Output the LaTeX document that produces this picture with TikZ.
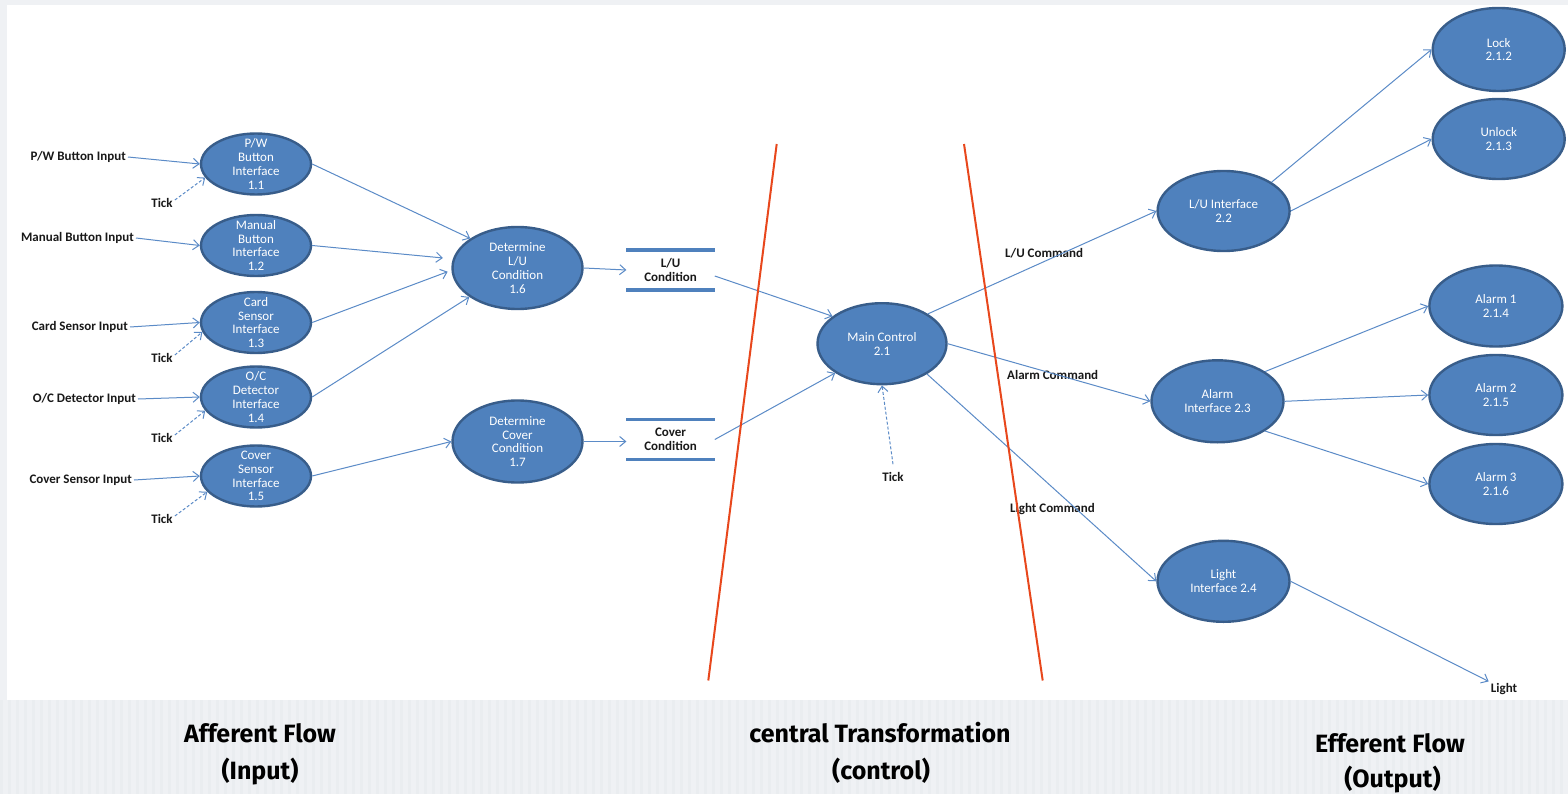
\documentclass[tikz,border=0pt]{standalone}
\usepackage{fontspec}
\setmainfont{Carlito}
\newfontfamily\handfont{Fira Sans}
\usetikzlibrary{arrows.meta,shapes.geometric}
\definecolor{bubble}{HTML}{4F81BD}
\definecolor{bubbleedge}{HTML}{385D8A}
\definecolor{flowc}{HTML}{5B8BC7}
\definecolor{redline}{HTML}{E8471C}
\definecolor{bggray}{HTML}{EFF1F4}
\definecolor{stripe}{HTML}{EAEDF0}
\begin{document}
\begin{tikzpicture}[x=1pt,y=-1pt,
 proc/.style 2 args={ellipse, draw=bubbleedge, line width=2.4pt, fill=bubble, minimum width=#1, minimum height=#2, inner sep=0pt},
 ptext/.style={text=white, font=\fontsize{13}{13.8}\selectfont, align=center, inner sep=0pt},
 lbl/.style={font=\bfseries\fontsize{13}{15}\selectfont, text=black!90, inner sep=2pt},
 store/.style={font=\bfseries\fontsize{13}{14}\selectfont, text=black!90, align=center, minimum width=88pt, minimum height=40pt, inner sep=0pt},
 storebar/.style={draw=bubble, line width=3.5pt},
 flow/.style={draw=flowc, line width=1pt, -{Straight Barb[length=6pt,width=10pt]}},
 tickflow/.style={flow, dash pattern=on 3pt off 2pt},
 divider/.style={draw=redline, line width=2pt},
 hand/.style={font=\handfont\bfseries\fontsize{25}{28}\selectfont, inner sep=0pt}
]
% background
\fill[bggray] (0,0) rectangle (1568,794);
\foreach \x in {0,8,...,1560} \fill[stripe] (\x,700) rectangle ++(3,94);
\fill[white] (7,5) rectangle (1568,700);
\useasboundingbox (0,0) rectangle (1568,794);

% afferent processes
\node[proc={110}{61}, label={[ptext]center:{P/W\\Button\\Interface\\1.1}}] (n11) at (256,164) {};
\node[proc={110}{61}, label={[ptext]center:{Manual\\Button\\Interface\\1.2}}] (n12) at (256,245.5) {};
\node[proc={110}{61}, label={[ptext]center:{Card\\Sensor\\Interface\\1.3}}] (n13) at (256,322.5) {};
\node[proc={110}{61}, label={[ptext]center:{O/C\\Detector\\Interface\\1.4}}] (n14) at (256,397) {};
\node[proc={110}{61}, label={[ptext]center:{Cover\\Sensor\\Interface\\1.5}}] (n15) at (256,476) {};
\node[proc={130}{82}, label={[ptext]center:{Determine\\L/U\\Condition\\1.6}}] (n16) at (517.5,268) {};
\node[proc={130}{82}, label={[ptext]center:{Determine\\Cover\\Condition\\1.7}}] (n17) at (517.5,441.5) {};

% central
\node[proc={129}{81}, label={[ptext]center:{Main Control\\2.1}}] (main) at (882,343.7) {};

% efferent
\node[proc={132}{80}, label={[ptext]center:{L/U Interface\\2.2}}] (n22) at (1223.6,211) {};
\node[proc={132}{82}, label={[ptext]center:{Alarm\\Interface 2.3}}] (n23) at (1217.5,401.3) {};
\node[proc={132}{81}, label={[ptext]center:{Light\\Interface 2.4}}] (n24) at (1223.5,581.3) {};
\node[proc={132}{83}, label={[ptext]center:{Lock\\2.1.2}}] (lock) at (1498.7,49.5) {};
\node[proc={132}{80}, label={[ptext]center:{Unlock\\2.1.3}}] (unlock) at (1498.7,139) {};
\node[proc={133}{81}, label={[ptext]center:{Alarm 1\\2.1.4}}] (a1) at (1495.9,306) {};
\node[proc={133}{80}, label={[ptext]center:{Alarm 2\\2.1.5}}] (a2) at (1495.9,395) {};
\node[proc={133}{80}, label={[ptext]center:{Alarm 3\\2.1.6}}] (a3) at (1495.9,484) {};

% data stores
\node[store] (s1) at (670.6,270) {L/U\\Condition};
\draw[storebar] (s1.north west) -- (s1.north east);
\draw[storebar] (s1.south west) -- (s1.south east);
\node[store] (s2) at (670.6,439.5) {Cover\\Condition};
\draw[storebar] (s2.north west) -- (s2.north east);
\draw[storebar] (s2.south west) -- (s2.south east);

% input labels
\node[lbl, anchor=east] (in1) at (128,157) {P/W Button Input};
\node[lbl, anchor=east] (in2) at (136,238) {Manual Button Input};
\node[lbl, anchor=east] (in3) at (130,327) {Card Sensor Input};
\node[lbl, anchor=east] (in4) at (138,399) {O/C Detector Input};
\node[lbl, anchor=east] (in5) at (134,480) {Cover Sensor Input};
\node[lbl] (tk1) at (162,203) {Tick};
\node[lbl] (tk3) at (162,358) {Tick};
\node[lbl] (tk4) at (162,438) {Tick};
\node[lbl] (tk5) at (162,519) {Tick};
\node[lbl] (tkm) at (893,477) {Tick};
\node[lbl, anchor=west, inner sep=0pt] (cmd1) at (1005,253) {L/U Command};
\node[lbl, anchor=west, inner sep=0pt] (cmd2) at (1007,375) {Alarm Command};
\node[lbl, anchor=west, inner sep=0pt] (cmd3) at (1010,509.3) {Light Command};
\node[lbl] (light) at (1504,689.3) {Light};

% connectors: inputs
\draw[flow] (in1.east) -- (n11.west);
\draw[flow] (in2.east) -- (n12.west);
\draw[flow] (in3.east) -- (n13.west);
\draw[flow] (in4.east) -- (n14.west);
\draw[flow] (in5.east) -- (n15.west);
\draw[tickflow] ([yshift=3pt]tk1.east) -- (n11.195);
\draw[tickflow] ([yshift=3pt]tk3.east) -- (n13.190);
\draw[tickflow] ([yshift=3pt]tk4.east) -- (n14.195);
\draw[tickflow] ([yshift=3pt]tk5.east) -- (n15.198);

% afferent internal
\draw[flow] (n11.east) -- (n16.148);
\draw[flow, shorten >=10pt] (n12.east) -- (n16.172);
\draw[flow, shorten >=4pt] (n13.east) -- (n16.182);
\draw[flow] (n14.east) -- (n16.211);
\draw[flow] (n15.east) -- (n17.west);
\draw[flow] (n16.east) -- (s1.west);
\draw[flow] (n17.east) -- (n17.east -| s2.west);

% to central
\draw[flow] ([yshift=-6pt]s1.east) -- (main.151);
\draw[flow] (s2.east) -- (main.212);
\draw[tickflow] ([yshift=6pt]tkm.north) -- (main.south);

% efferent
\draw[flow] (main.33) -- (n22.west);
\draw[flow] (main.east) -- (n23.west);
\draw[flow] (main.-34) -- (n24.west);
\draw[flow] (n22.31) -- (lock.west);
\draw[flow] (n22.east) -- (unlock.west);
\draw[flow] (n23.32) -- (a1.west);
\draw[flow] (n23.east) -- (a2.west);
\draw[flow] (n23.-32) -- (a3.west);
\draw[flow] (n24.east) -- (light.north west);

% dividers
\draw[divider] (776.7,144) -- (708.3,680.5);
\draw[divider] (964,144) -- (1042.7,680.5);

% bottom captions
\node[hand] (aff1) at (260,733) {Afferent Flow};
\node[hand] (aff2) at (260,771.7) {(Input)};
\node[hand] (cen1) at (880,733) {central Transformation};
\node[hand] (cen2) at (881,770.7) {(control)};
\node[hand] (eff1) at (1390,743) {Efferent Flow};
\node[hand] (eff2) at (1392.5,780) {(Output)};
\end{tikzpicture}
\end{document}
